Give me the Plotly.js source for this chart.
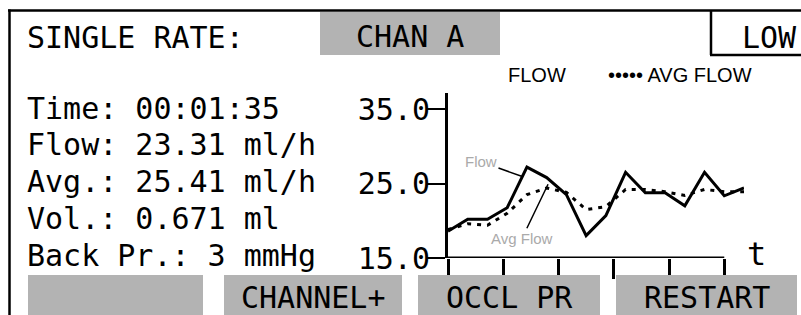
<!DOCTYPE html>
<html>
<head>
<meta charset="utf-8">
<script src="https://cdn.plot.ly/plotly-3.0.1.min.js"></script>
<style>
  html, body { margin: 0; padding: 0; background: #fff; }
  #chart { width: 801px; height: 315px; }
</style>
</head>
<body>
<div id="chart"></div>
<script>
// ---- data ----
const samples = [0, 1, 2, 3, 4, 5, 6, 7, 8, 9, 10, 11, 12, 13, 14, 15];
const flow = [18.6, 20.2, 20.2, 21.75, 27.2, 25.8, 23.5, 18.0, 20.7, 26.5, 23.75, 23.75, 22.0, 26.5, 23.35, 24.4];
const avgFlow = [18.8, 19.6, 19.4, 21.0, 23.5, 24.4, 23.8, 21.5, 21.9, 24.2, 24.2, 23.9, 23.4, 24.2, 23.9, 23.9];
const yTicks = [15, 25, 35];
const xTicks = [0, 2.8, 5.6, 8.4, 11.2, 14];
const headerLabel = "SINGLE RATE:";
const channelLabel = "CHAN A";
const rateLabel = "LOW";
const infoLines = ["Time: 00:01:35", "Flow: 23.31 ml/h", "Avg.: 25.41 ml/h", "Vol.: 0.671 ml", "Back Pr.: 3 mmHg"];
const buttonLabels = ["", "CHANNEL+", "OCCL PR", "RESTART"];
const legendLabels = ["FLOW", "AVG FLOW"];
const seriesNotes = ["Flow", "Avg Flow"];
const timeAxisLabel = "t";

// ---- layout helpers (pixel -> paper) ----
const W = 801, H = 315;
const px = v => v / W;
const py = v => 1 - v / H;
const MONO = "DejaVu Sans Mono, monospace";
const SANS = "Liberation Sans, Arial, sans-serif";
const GRAY = "#b3b3b3";

const traces = [
  { x: samples, y: flow, type: "scatter", mode: "lines", name: "FLOW",
    line: { color: "#000", width: 3 }, hoverinfo: "skip" },
  { x: samples, y: avgFlow, type: "scatter", mode: "lines", name: "AVG FLOW",
    line: { color: "#000", width: 3, dash: "4px,6px" }, hoverinfo: "skip" }
];

const shapes = [];
function line(x0, y0, x1, y1, w) {
  shapes.push({ type: "line", xref: "paper", yref: "paper", x0: px(x0), y0: py(y0), x1: px(x1), y1: py(y1),
    line: { color: "#000", width: w } });
}
function box(x0, y0, x1, y1) {
  shapes.push({ type: "rect", xref: "paper", yref: "paper", x0: px(x0), y0: py(y0), x1: px(x1), y1: py(y1),
    fillcolor: GRAY, line: { width: 0 }, layer: "above" });
}
// frame
line(8, 10.5, 801, 10.5, 2.5);
line(9.5, 9.5, 9.5, 315, 2.5);
// LOW box
line(711, 10, 711, 55, 2.5);
line(710, 55, 801, 55, 2.5);
// channel box
box(320, 12, 500, 55);
// buttons
const btnX = [[28, 203], [224, 402], [418, 600], [616, 797]];
btnX.forEach(b => box(b[0], 275, b[1], 315));
// x axis line up to last tick
shapes.push({ type: "line", xref: "x", yref: "y", x0: xTicks[0], x1: xTicks[xTicks.length - 1], y0: yTicks[0], y1: yTicks[0],
  line: { color: "#000", width: 3 } });

const annotations = [];
function txt(text, x, y, xanchor, size, font, color) {
  annotations.push({ text: text, xref: "paper", yref: "paper", x: px(x), y: py(y), xanchor: xanchor, yanchor: "middle",
    showarrow: false, font: { family: font || MONO, size: size, color: color || "#000" } });
}
txt(headerLabel, 25, 37, "left", 30);
txt(channelLabel, 410, 36, "center", 30);
txt(rateLabel, 799, 37, "right", 30);
const rowY = [108, 145, 182, 218, 255];
infoLines.forEach((s, i) => txt(s, 25, rowY[i], "left", 30));
const btnCenters = btnX.map(b => (b[0] + b[1]) / 2);
buttonLabels.forEach((s, i) => { if (s) txt(s, btnCenters[i], 297, "center", 30); });
// legend
txt(legendLabels[0], 506, 75, "left", 20, SANS);
txt("\u2022\u2022\u2022\u2022\u2022 " + legendLabels[1], 606, 75, "left", 20, SANS);
// axis name
txt(timeAxisLabel, 756, 254, "center", 32, MONO);
// series notes with leader lines
annotations.push({ text: seriesNotes[0], x: 3.8, y: 25.9, xref: "x", yref: "y", ax: -42, ay: -15,
  showarrow: true, arrowhead: 0, arrowwidth: 1.5, arrowcolor: "#000",
  font: { family: SANS, size: 15, color: "#aaa" } });
annotations.push({ text: seriesNotes[1], x: 5.07, y: 24.9, xref: "x", yref: "y", ax: -26, ay: 54,
  showarrow: true, arrowhead: 0, arrowwidth: 1.5, arrowcolor: "#000",
  font: { family: SANS, size: 15, color: "#aaa" } });

const layout = {
  width: W, height: H,
  margin: { l: 0, r: 0, t: 0, b: 0, pad: 0 },
  paper_bgcolor: "#fff", plot_bgcolor: "rgba(0,0,0,0)",
  showlegend: false,
  xaxis: { domain: [px(448), px(744)], range: [0, 15], showgrid: false, zeroline: false, showline: false,
    ticks: "outside", tickvals: xTicks, ticklen: 20, tickwidth: 3, tickcolor: "#000", showticklabels: false,
    fixedrange: true },
  yaxis: { domain: [py(258), py(93)], range: [15, 37.15], showgrid: false, zeroline: false,
    showline: true, linewidth: 3, linecolor: "#000",
    ticks: "outside", tickvals: yTicks, tickformat: ".1f", ticklen: 18, tickwidth: 2, tickcolor: "#000",
    ticklabelstandoff: -9,
    tickfont: { family: MONO, size: 30, color: "#000" }, fixedrange: true },
  shapes: shapes,
  annotations: annotations
};

Plotly.newPlot("chart", traces, layout, { staticPlot: true, displayModeBar: false });
</script>
</body>
</html>
